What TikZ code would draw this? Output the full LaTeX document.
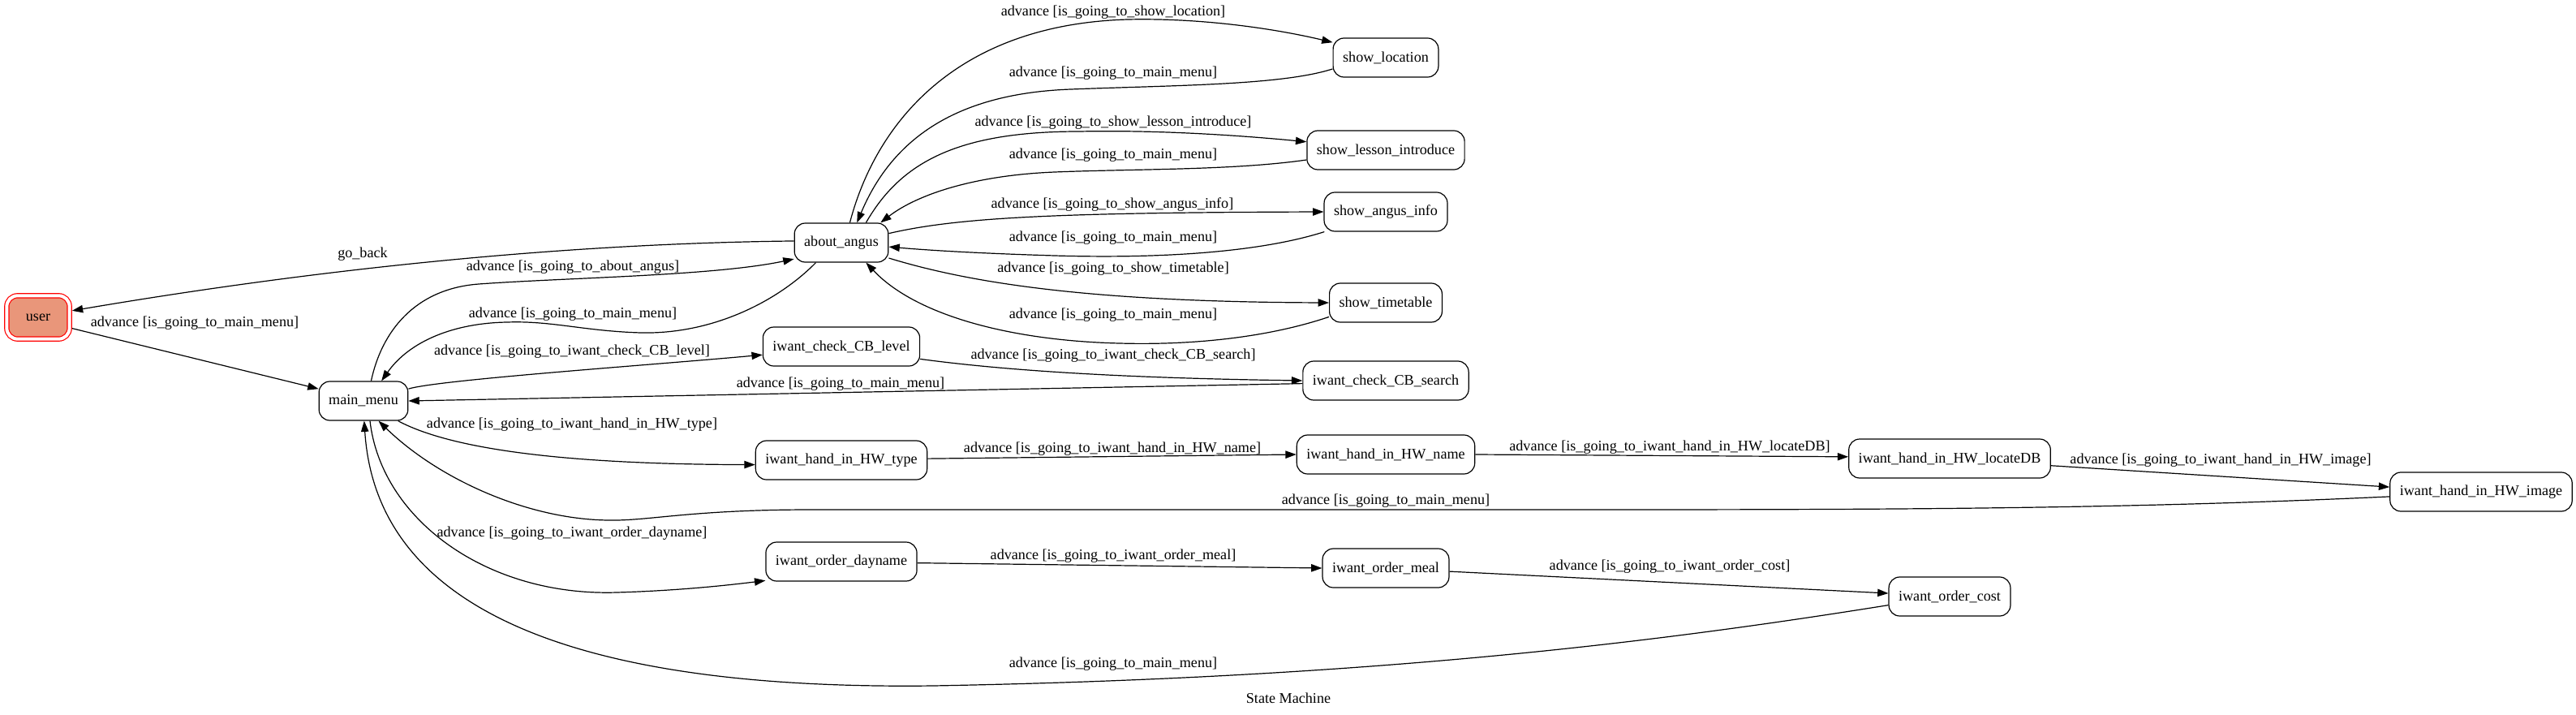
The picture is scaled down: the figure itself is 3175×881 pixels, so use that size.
\documentclass[tikz,border=0pt]{standalone}
\usepackage{fontspec}
\setmainfont{Liberation Serif}
\usetikzlibrary{arrows.meta}
\definecolor{usersalmon}{RGB}{233,150,122}

\begin{document}
\begin{tikzpicture}[x=0.75pt, y=-0.75pt,
        font=\fontsize{13.6}{16}\selectfont,
        >={Triangle[length=10pt, width=7pt]},
        state/.style={rectangle, rounded corners=10pt, draw, line width=0.9pt, minimum height=36pt, inner xsep=9pt},
        arr/.style={->, line width=0.9pt},
        lbl/.style={inner sep=1pt}]
            \useasboundingbox (0,0) rectangle (3175,881);
            \pgfmathsetmacro{\xa}{448}  % main menu column
            \pgfmathsetmacro{\xb}{1037} % first column of states
            \pgfmathsetmacro{\xc}{1708} % second column
            \pgfmathsetmacro{\xd}{2403}
            \pgfmathsetmacro{\xe}{3058}

            % states
            \node[state, fill=usersalmon, draw=red, double=white, double distance=3pt, minimum width=58pt, minimum height=40pt, outer sep=2.4pt] (user) at (47,391) {user}; % initial state
            \node[state] (mainmenu) at (\xa,494) {main\_menu};
            \node[state] (about) at (\xb,299) {about\_angus};
            \node[state] (showloc) at (\xc,71) {show\_location};
            \node[state] (showlesson) at (\xc,185) {show\_lesson\_introduce};
            \node[state] (showinfo) at (\xc,261) {show\_angus\_info};
            \node[state] (showtime) at (\xc,373) {show\_timetable};
            \node[state] (cblevel) at (\xb,427) {iwant\_check\_CB\_level};
            \node[state] (cbsearch) at (\xc,469) {iwant\_check\_CB\_search};
            \node[state] (hwtype) at (\xb,567) {iwant\_hand\_in\_HW\_type};
            \node[state] (hwname) at (\xc,560) {iwant\_hand\_in\_HW\_name};
            \node[state] (hwlocate) at (\xd,565) {iwant\_hand\_in\_HW\_locateDB};
            \node[state] (hwimage) at (\xe,606) {iwant\_hand\_in\_HW\_image};
            \node[state] (dayname) at (\xb,692) {iwant\_order\_dayname};
            \node[state] (meal) at (\xc,700) {iwant\_order\_meal};
            \node[state] (cost) at (\xd,735) {iwant\_order\_cost};

            % user and main menu
            \draw[arr] (user.-18) -- (mainmenu.165) node[lbl] at (240,398) {advance [is\_going\_to\_main\_menu]};
            \draw[arr] (about.178) .. controls (700,300) and (400,330) .. (user.11) node[lbl] at (447,313) {go\_back};
            \draw[arr] (mainmenu.69) .. controls (470,410) and (510,356) .. (590,350) .. controls (700,342) and (880,340) .. (about.-161) node[lbl] at (706,329) {advance [is\_going\_to\_about\_angus]};
            \draw[arr] (about.-142) .. controls (960,370) and (880,412) .. (790,410) .. controls (720,408) and (680,395) .. (625,397) .. controls (560,398) and (505,420) .. (mainmenu.48) node[lbl] at (706,387) {advance [is\_going\_to\_main\_menu]};

            % about angus branch
            \draw[arr] (about.67) .. controls (1080,150) and (1180,30) .. (1390,24) .. controls (1480,22) and (1570,35) .. (showloc.164) node[lbl] at (1372,15) {advance [is\_going\_to\_show\_location]};
            \draw[arr] (showloc.192) .. controls (1580,105) and (1450,105) .. (1320,110) .. controls (1180,115) and (1100,170) .. (about.52) node[lbl] at (1372,90) {advance [is\_going\_to\_main\_menu]};
            \draw[arr] (about.39) .. controls (1110,200) and (1180,162) .. (1330,162) .. controls (1430,160) and (1530,167) .. (showlesson.174) node[lbl] at (1372,151) {advance [is\_going\_to\_show\_lesson\_introduce]};
            \draw[arr] (showlesson.187) .. controls (1520,210) and (1400,208) .. (1300,212) .. controls (1200,216) and (1130,240) .. (about.27) node[lbl] at (1372,191) {advance [is\_going\_to\_main\_menu]};
            \draw[arr] (about.11) .. controls (1180,268) and (1300,262) .. (showinfo.west) node[lbl] at (1371,252) {advance [is\_going\_to\_show\_angus\_info]};
            \draw[arr] (showinfo.-162) .. controls (1540,315) and (1400,318) .. (1300,315) .. controls (1200,312) and (1140,308) .. (about.-5) node[lbl] at (1372,293) {advance [is\_going\_to\_main\_menu]};
            \draw[arr] (about.-18) .. controls (1200,350) and (1350,372) .. (showtime.west) node[lbl] at (1372,331) {advance [is\_going\_to\_show\_timetable]};
            \draw[arr] (showtime.-166) .. controls (1550,420) and (1450,425) .. (1380,423) .. controls (1250,420) and (1130,390) .. (about.-39) node[lbl] at (1372,388) {advance [is\_going\_to\_main\_menu]};

            % check CB branch
            \draw[arr] (mainmenu.15) .. controls (540,468) and (800,450) .. (cblevel.186) node[lbl] at (705,433) {advance [is\_going\_to\_iwant\_check\_CB\_level]};
            \draw[arr] (cblevel.-9) .. controls (1250,458) and (1400,466) .. (cbsearch.west) node[lbl] at (1372,438) {advance [is\_going\_to\_iwant\_check\_CB\_search]};
            \draw[arr] (cbsearch.182) -- (mainmenu.east) node[lbl] at (1036,473) {advance [is\_going\_to\_main\_menu]};

            % hand in HW branch
            \draw[arr] (mainmenu.-30) .. controls (540,545) and (650,572) .. (hwtype.183) node[lbl] at (705,523) {advance [is\_going\_to\_iwant\_hand\_in\_HW\_type]};
            \draw[arr] (hwtype.1) -- (hwname.west) node[lbl] at (1371,553) {advance [is\_going\_to\_iwant\_hand\_in\_HW\_name]};
            \draw[arr] (hwname.east) -- (hwlocate.179) node[lbl] at (2058,551) {advance [is\_going\_to\_iwant\_hand\_in\_HW\_locateDB]};
            \draw[arr] (hwlocate.-4) -- (hwimage.177) node[lbl] at (2737,567) {advance [is\_going\_to\_iwant\_hand\_in\_HW\_image]};
            \draw[arr] (hwimage.183) .. controls (2600,628) and (2300,628) .. (1900,628) -- (1000,628) .. controls (850,628) and (800,642) .. (750,641) .. controls (650,640) and (540,590) .. (mainmenu.-53) node[lbl] at (1708,617) {advance [is\_going\_to\_main\_menu]};

            % order branch
            \draw[arr] (mainmenu.-72) .. controls (470,640) and (600,735) .. (760,730) .. controls (830,728) and (890,722) .. (dayname.-166) node[lbl] at (705,657) {advance [is\_going\_to\_iwant\_order\_dayname]};
            \draw[arr] (dayname.-1) -- (meal.west) node[lbl] at (1372,685) {advance [is\_going\_to\_iwant\_order\_meal]};
            \draw[arr] (meal.-3) -- (cost.177) node[lbl] at (2058,698) {advance [is\_going\_to\_iwant\_order\_cost]};
            \draw[arr] (cost.188) .. controls (2050,790) and (1700,835) .. (1150,845) .. controls (750,850) and (465,770) .. (mainmenu.-88) node[lbl] at (1372,818) {advance [is\_going\_to\_main\_menu]};

            \node (title) at (1588,860) {State Machine}; % graph label
        \end{tikzpicture}
\end{document}
